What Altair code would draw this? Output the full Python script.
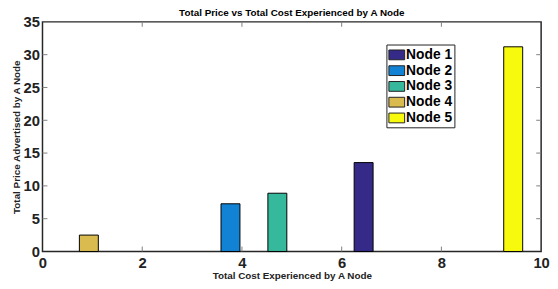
import altair as alt
import pandas as pd

nodes = ["Node 1", "Node 2", "Node 3", "Node 4", "Node 5"]
cost = [6.44, 3.77, 4.71, 0.93, 9.44]
price = [13.55, 7.27, 8.88, 2.5, 31.2]
colors = ["#352a87", "#1283d4", "#35b89c", "#d9bb50", "#f8fa0d"]
x_labels = [0, 2, 4, 6, 8, 10]
y_labels = [0, 5, 10, 15, 20, 25, 30, 35]
x_ticks = [2, 4, 6, 8]
y_ticks = [5, 10, 15, 20, 25, 30]

BAR_W = 0.38
W, H = 506, 233
FONT = "Liberation Sans"
AX = "#262626"
TK = "#7f7f7f"

df = pd.DataFrame({"node": nodes, "cost": cost, "price": price})
df["x0"] = df["cost"] - BAR_W / 2
df["x1"] = df["cost"] + BAR_W / 2
df["zero"] = 0

xs = alt.Scale(domain=[0, 10], nice=False, zero=False)
ys = alt.Scale(domain=[0, 35], nice=False)

x_axis = alt.Axis(
    values=x_labels, title="Total Cost Experienced by A Node",
    ticks=False, domain=False, grid=False, labelFlush=False, labelOverlap=False,
    labelFont=FONT, labelFontWeight="bold", labelFontSize=15, labelColor="#222",
    labelPadding=4, titleFont=FONT, titleFontWeight="bold", titleFontSize=10,
    titleColor="#222", titlePadding=0)
y_axis = alt.Axis(
    values=y_labels, title="Total Price Advertised by A Node",
    ticks=False, domain=False, grid=False, labelFlush=False, labelOverlap=False,
    labelFont=FONT, labelFontWeight="bold", labelFontSize=15, labelColor="#222",
    labelPadding=3, titleFont=FONT, titleFontWeight="bold", titleFontSize=10,
    titleColor="#222", titlePadding=2)

bars = alt.Chart(df).mark_rect(stroke="black", strokeWidth=1).encode(
    x=alt.X("x0:Q", scale=xs, axis=x_axis),
    x2="x1:Q",
    y=alt.Y("price:Q", scale=ys, axis=y_axis),
    y2="zero:Q",
    fill=alt.Fill("node:N", scale=alt.Scale(domain=nodes, range=colors), legend=alt.Legend(
        title=None, orient="none", legendX=349, legendY=23,
        symbolType="M-1,-0.62L1,-0.62L1,0.62L-1,0.62Z", symbolSize=256,
        symbolStrokeColor="#222", symbolStrokeWidth=1, symbolOpacity=1,
        labelFont=FONT, labelFontWeight="bold", labelFontSize=14, labelColor="black",
        labelOffset=1, rowPadding=0, padding=2, strokeColor="#222", fillColor="white",
        symbolOffset=0)),
)

xt = pd.DataFrame({"t": x_ticks})
yt = pd.DataFrame({"t": y_ticks})

bot = alt.Chart(xt).mark_rule(color=TK, strokeWidth=1).encode(
    x=alt.X("t:Q", scale=xs, axis=x_axis), y=alt.value(H), y2=alt.value(H - 5))
top = alt.Chart(xt).mark_rule(color=TK, strokeWidth=1).encode(
    x=alt.X("t:Q", scale=xs, axis=x_axis), y=alt.value(0), y2=alt.value(5))
left = alt.Chart(yt).mark_rule(color=TK, strokeWidth=1).encode(
    y=alt.Y("t:Q", scale=ys, axis=y_axis), x=alt.value(0), x2=alt.value(5))
right = alt.Chart(yt).mark_rule(color=TK, strokeWidth=1).encode(
    y=alt.Y("t:Q", scale=ys, axis=y_axis), x=alt.value(W), x2=alt.value(W - 5))

chart = alt.layer(bars, bot, top, left, right).properties(
    width=W, height=H,
    title=alt.TitleParams("Total Price vs Total Cost Experienced by A Node",
                          font=FONT, fontWeight="bold", fontSize=10, color="black",
                          anchor="middle", offset=3, dy=6),
    autosize=alt.AutoSizeParams(type="none"),
    padding={"left": 35, "top": 12, "right": 9, "bottom": 36},
    background="white",
).configure_view(stroke=AX, strokeWidth=1.5)

chart.save("out.html", embed_options={"renderer": "svg", "actions": False})
